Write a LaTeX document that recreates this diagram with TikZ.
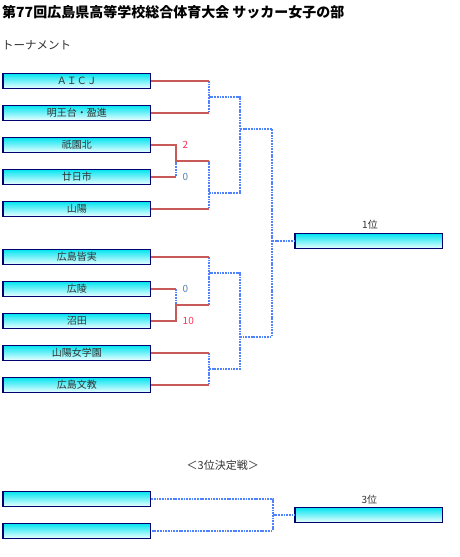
\documentclass[tikz,border=0pt]{standalone}
\usepackage{fontspec}
\setmainfont{Noto Sans CJK JP}
\definecolor{boxtop}{RGB}{0,228,240}
\definecolor{boxmid}{RGB}{60,238,245}
\definecolor{boxbot}{RGB}{235,255,255}
\definecolor{navy}{RGB}{0,0,110}
\definecolor{redline}{RGB}{200,90,90}
\definecolor{blueline}{RGB}{80,130,255}
\definecolor{scorered}{RGB}{255,50,90}
\definecolor{scoreblue}{RGB}{90,130,170}
\definecolor{txt}{RGB}{50,50,50}
\tikzset{
  team/.style={draw=navy, line width=1.3pt, rectangle, minimum width=147.5pt, minimum height=15pt,
    inner sep=0pt, top color=boxtop, middle color=boxmid, bottom color=boxbot,
    font=\fontsize{10}{10}\selectfont, text=txt},
  won/.style={draw=redline, line width=2pt},
  tbd/.style={draw=blueline, line width=1.8pt, dash pattern=on 1.8pt off 0.9pt},
  score/.style={font=\fontsize{10}{10}\selectfont, inner sep=0pt},
  lbl/.style={font=\fontsize{10}{10}\selectfont, text=txt, inner sep=0pt}
}
\begin{document}
\begin{tikzpicture}[x=1pt,y=-1pt]
\useasboundingbox[fill=white] (0,0) rectangle (459,557);
\node[anchor=west, inner sep=0pt, font=\fontsize{14}{15}\selectfont\bfseries] (title) at (2,12) {第77回広島県高等学校総合体育大会 サッカー女子の部};
\node[anchor=west, inner sep=0pt, font=\fontsize{11.5}{12}\selectfont, text=txt] (sub) at (2,45) {トーナメント};

% teams
\node[team] (t1) at (76.75,80.8) {ＡＩＣＪ};
\node[team] (t2) at (76.75,112.8) {明王台・盈進};
\node[team] (t3) at (76.75,144.8) {祇園北};
\node[team] (t4) at (76.75,176.8) {廿日市};
\node[team] (t5) at (76.75,208.8) {山陽};
\node[team] (t6) at (76.75,256.8) {広島皆実};
\node[team] (t7) at (76.75,288.8) {広陵};
\node[team] (t8) at (76.75,320.8) {沼田};
\node[team] (t9) at (76.75,352.8) {山陽女学園};
\node[team] (t10) at (76.75,384.8) {広島文教};
\node[team] (w1) at (368.8,241) {};
\node[lbl] (w1l) at (370,225) {1位};

% junction coordinates
\coordinate (a1) at (208.7,80.8);
\coordinate (a2) at (208.7,112.8);
\coordinate (am) at (208.7,96.8);
\coordinate (r3) at (176,144.8);
\coordinate (r4) at (176,176.8);
\coordinate (r34) at (176,160.7);
\coordinate (a34) at (208.7,160.7);
\coordinate (a5) at (208.7,208.8);
\coordinate (bm) at (208.7,192.7);
\coordinate (c1) at (240,96.8);
\coordinate (c2) at (240,192.7);
\coordinate (cm) at (240,129);
\coordinate (d1) at (272,129);

\coordinate (a6) at (208.7,256.8);
\coordinate (r7) at (176,288.8);
\coordinate (r8) at (176,320.8);
\coordinate (r78) at (176,305);
\coordinate (a78) at (208.7,305);
\coordinate (am2) at (208.7,272.7);
\coordinate (a9) at (208.7,352.8);
\coordinate (a10) at (208.7,384.8);
\coordinate (bm2) at (208.7,368.8);
\coordinate (c3) at (240,272.7);
\coordinate (c4) at (240,368.8);
\coordinate (cm2) at (240,336.7);
\coordinate (d2) at (272,336.7);
\coordinate (dw) at (272,241);

% blue (undecided) lines
\draw[tbd] (a1) -- (a2);
\draw[tbd] (am) -- (c1) -- (c2) -- (bm);
\draw[tbd] (a34) -- (a5);
\draw[tbd] (r34) -- (r4);
\draw[tbd] (cm) -- (d1) -- (d2) -- (cm2);
\draw[tbd] (dw) -- (w1.west);
\draw[tbd] (a6) -- (a78);
\draw[tbd] (r7) -- (r78);
\draw[tbd] (am2) -- (c3) -- (c4) -- (bm2);
\draw[tbd] (a9) -- (a10);

% red (played) lines
\draw[won] (t1.east) -- (a1);
\draw[won] (t2.east) -- (a2);
\draw[won] (t3.east) -- (r3) -- (r34) -- (a34);
\draw[won] (t4.east) -- (r4);
\draw[won] (t5.east) -- (a5);
\draw[won] (t6.east) -- (a6);
\draw[won] (t7.east) -- (r7);
\draw[won] (t8.east) -- (r8) -- (r78) -- (a78);
\draw[won] (t9.east) -- (a9);
\draw[won] (t10.east) -- (a10);

% scores
\node[score, text=scorered, anchor=west] (s3) at (182.5,145) {2};
\node[score, text=scoreblue, anchor=west] (s4) at (182.5,177) {0};
\node[score, text=scoreblue, anchor=west] (s7) at (182.5,289) {0};
\node[score, text=scorered, anchor=west] (s8) at (182.5,321) {10};

% third place
\node[inner sep=0pt, font=\fontsize{11}{12}\selectfont, text=txt] (third) at (222.7,465.7) {＜3位決定戦＞};
\node[team] (b1) at (76.75,498.8) {};
\node[team] (b2) at (76.75,530.8) {};
\node[team] (w3) at (368.8,514.8) {};
\node[lbl] (w3l) at (369.3,499.3) {3位};
\coordinate (e1) at (272.7,498.8);
\coordinate (e2) at (272.7,530.8);
\coordinate (em) at (272.7,514.8);
\draw[tbd] (b1.east) -- (e1) -- (e2) -- (b2.east);
\draw[tbd] (em) -- (w3.west);
\end{tikzpicture}
\end{document}
